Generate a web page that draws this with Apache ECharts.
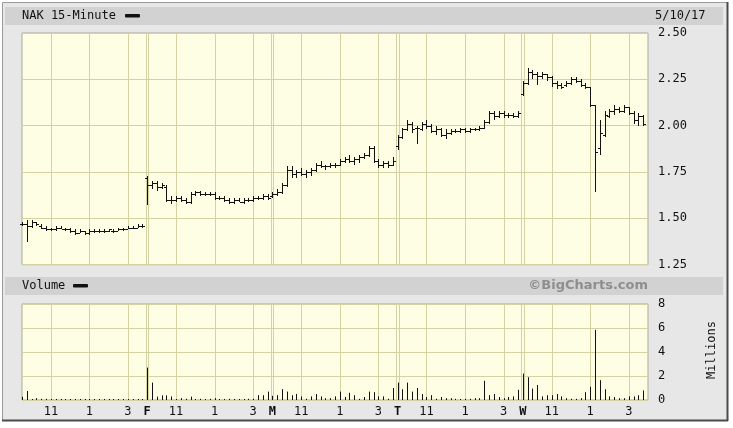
<!DOCTYPE html>
<html><head><meta charset="utf-8">
<script src="https://cdn.jsdelivr.net/npm/echarts@6/dist/echarts.min.js"></script>
<style>html,body{margin:0;padding:0;background:#fff}#c{width:733px;height:428px}</style>
</head><body><div id="c"></div>
<script>
// 15-minute bars, 5 sessions x 26 bars (Thu, Fri, Mon, Tue, Wed)
const opens = [
1.47,1.47,1.46,1.48,1.46,1.45,1.44,1.44,1.45,1.44,1.44,1.43,1.42,1.43,1.42,1.43,1.43,1.43,1.43,1.43,1.43,1.44,1.44,1.45,1.45,1.46,
1.72,1.68,1.69,1.67,1.67,1.60,1.60,1.61,1.60,1.59,1.63,1.64,1.63,1.63,1.63,1.61,1.61,1.60,1.59,1.60,1.59,1.60,1.60,1.61,1.61,1.62,
1.62,1.63,1.64,1.68,1.76,1.74,1.75,1.74,1.75,1.76,1.79,1.78,1.78,1.79,1.79,1.81,1.82,1.81,1.82,1.83,1.84,1.88,1.81,1.79,1.80,1.79,
1.89,1.94,1.98,2.01,1.99,1.98,2.01,2.00,1.97,1.98,1.95,1.96,1.97,1.97,1.98,1.97,1.98,1.98,1.99,2.02,2.07,2.05,2.07,2.06,2.06,2.05,
2.17,2.23,2.29,2.28,2.27,2.28,2.26,2.23,2.22,2.22,2.23,2.25,2.24,2.22,2.21,2.11,1.88,1.95,2.05,2.08,2.09,2.08,2.10,2.07,2.03,2.05
];
const highs = [
1.48,1.49,1.49,1.48,1.47,1.46,1.45,1.46,1.46,1.45,1.45,1.44,1.44,1.43,1.44,1.44,1.44,1.44,1.44,1.44,1.45,1.45,1.46,1.46,1.47,1.47,
1.73,1.70,1.70,1.69,1.68,1.62,1.62,1.62,1.61,1.64,1.65,1.65,1.64,1.64,1.64,1.62,1.62,1.61,1.61,1.61,1.61,1.61,1.62,1.62,1.63,1.63,
1.64,1.66,1.69,1.78,1.78,1.76,1.77,1.76,1.77,1.80,1.81,1.79,1.80,1.80,1.82,1.83,1.84,1.83,1.84,1.85,1.89,1.89,1.82,1.81,1.81,1.83,
1.95,1.99,2.03,2.02,2.00,2.02,2.03,2.01,2.00,1.99,1.98,1.98,1.98,1.99,1.99,1.99,1.99,2.00,2.03,2.08,2.08,2.08,2.08,2.07,2.07,2.08,
2.24,2.31,2.30,2.29,2.29,2.28,2.27,2.24,2.23,2.24,2.26,2.26,2.25,2.23,2.21,2.11,2.03,2.08,2.09,2.11,2.10,2.11,2.10,2.08,2.07,2.06
];
const lows = [
1.46,1.37,1.45,1.46,1.44,1.43,1.43,1.43,1.44,1.43,1.42,1.41,1.42,1.41,1.41,1.42,1.42,1.42,1.43,1.42,1.43,1.43,1.44,1.44,1.45,1.45,
1.57,1.66,1.65,1.66,1.59,1.58,1.59,1.59,1.58,1.58,1.62,1.62,1.62,1.62,1.60,1.60,1.59,1.58,1.58,1.59,1.58,1.59,1.59,1.60,1.60,1.60,
1.61,1.62,1.63,1.67,1.72,1.72,1.73,1.72,1.73,1.75,1.77,1.76,1.77,1.77,1.78,1.80,1.80,1.79,1.80,1.82,1.83,1.80,1.77,1.77,1.77,1.78,
1.87,1.93,1.97,1.96,1.90,1.97,1.98,1.96,1.95,1.94,1.93,1.95,1.96,1.96,1.96,1.96,1.97,1.97,1.98,2.01,2.03,2.04,2.04,2.04,2.04,2.04,
2.16,2.22,2.25,2.22,2.25,2.24,2.21,2.20,2.20,2.21,2.22,2.23,2.21,2.20,2.10,1.64,1.84,1.94,2.04,2.06,2.07,2.07,2.06,2.01,2.00,2.00
];
const closes = [
1.47,1.46,1.48,1.47,1.45,1.44,1.44,1.45,1.44,1.44,1.43,1.42,1.43,1.42,1.43,1.43,1.43,1.43,1.44,1.43,1.44,1.44,1.45,1.45,1.46,1.46,
1.68,1.69,1.67,1.68,1.60,1.60,1.61,1.60,1.59,1.63,1.64,1.63,1.63,1.63,1.61,1.61,1.60,1.59,1.60,1.59,1.60,1.60,1.61,1.61,1.62,1.61,
1.63,1.64,1.68,1.76,1.74,1.75,1.74,1.75,1.76,1.79,1.78,1.78,1.79,1.79,1.81,1.82,1.81,1.82,1.83,1.84,1.88,1.81,1.79,1.80,1.79,1.81,
1.94,1.98,2.01,1.98,1.99,2.01,2.00,1.97,1.98,1.95,1.96,1.97,1.97,1.98,1.97,1.98,1.98,1.99,2.02,2.07,2.05,2.07,2.06,2.06,2.05,2.07,
2.23,2.29,2.28,2.27,2.28,2.26,2.23,2.22,2.21,2.23,2.25,2.24,2.22,2.21,2.11,1.86,1.96,2.06,2.08,2.09,2.08,2.10,2.07,2.03,2.05,2.01
];
// volume in millions
const volumes = [
0.27,0.75,0.05,0.15,0.10,0.10,0.08,0.03,0.03,0.03,0.08,0.08,0.03,0.03,0.08,0.03,0.03,0.03,0.03,0.03,0.03,0.03,0.08,0.03,0.03,0.05,
2.70,1.45,0.28,0.39,0.39,0.30,0.08,0.15,0.10,0.28,0.08,0.10,0.05,0.10,0.15,0.08,0.05,0.10,0.05,0.05,0.05,0.10,0.10,0.40,0.40,0.70,
0.35,0.40,0.90,0.70,0.40,0.50,0.30,0.10,0.30,0.50,0.30,0.15,0.15,0.30,0.70,0.25,0.60,0.40,0.10,0.25,0.70,0.65,0.30,0.30,0.10,1.00,
1.45,0.90,1.45,0.70,1.00,0.50,0.25,0.40,0.10,0.25,0.15,0.15,0.10,0.05,0.10,0.10,0.15,0.15,1.60,0.40,0.50,0.25,0.15,0.25,0.30,0.85,
2.20,1.90,0.95,1.25,0.30,0.40,0.40,0.50,0.30,0.15,0.10,0.10,0.15,0.65,1.10,5.85,1.65,0.90,0.30,0.25,0.15,0.15,0.30,0.30,0.40,0.80
];
// x tick positions (bar index) and their labels
const xTickPos  = [6,14,22,26,32,40,48,52,58,66,74,78,84,92,100,104,110,118,126];
const xTickText = ['11','1','3','F','11','1','3','M','11','1','3','T','11','1','3','W','11','1','3'];
const dayBreaks = [26,52,78,104];
const priceTicks = {min:1.25, max:2.5, step:0.25};
const volTicks = {min:0, max:8, step:2};

const GRIDC = '#d4d1a2';
const MONO = '"DejaVu Sans Mono", monospace';
const N = opens.length;

const priceData = opens.map((o,i)=>[i,o,highs[i],lows[i],closes[i]]);
const volData = volumes.map((v,i)=>[i,v]);
const vLines = [];
xTickPos.forEach(p=>{ if(!dayBreaks.includes(p)) vLines.push([p,0]); });
dayBreaks.forEach(d=>{ vLines.push([d-0.32,1]); vLines.push([d+0.22,1]); });

function crisp(v){ return Math.round(v)+0.5; }

function gridLineRender(yMin,yMax){
  return function(params, api){
    const x = api.value(0);
    const a = api.coord([x,yMin]), b = api.coord([x,yMax]);
    const cx = crisp(a[0]);
    return {type:'line', shape:{x1:cx,y1:a[1],x2:cx,y2:b[1]}, style:{stroke:GRIDC,lineWidth:1}};
  };
}

function ohlcRender(params, api){
  const x = api.value(0);
  const pO = api.coord([x,api.value(1)]), pH = api.coord([x,api.value(2)]);
  const pL = api.coord([x,api.value(3)]), pC = api.coord([x,api.value(4)]);
  const cx = crisp(pH[0]);
  let y1 = Math.round(pH[1]), y2 = Math.round(pL[1]);
  if (y2 - y1 < 3) y2 = y1 + 3;
  const st = {stroke:'#111', lineWidth:1};
  return {type:'group', children:[
    {type:'line', shape:{x1:cx,y1:y1,x2:cx,y2:y2}, style:st},
    {type:'line', shape:{x1:cx-2.5,y1:crisp(pO[1]),x2:cx-0.5,y2:crisp(pO[1])}, style:st},
    {type:'line', shape:{x1:cx+0.5,y1:crisp(pC[1]),x2:cx+2.5,y2:crisp(pC[1])}, style:st}
  ]};
}

function volRender(params, api){
  const x = api.value(0);
  const a = api.coord([x,0]), b = api.coord([x,api.value(1)]);
  const cx = crisp(a[0]);
  return {type:'line', shape:{x1:cx,y1:a[1],x2:cx,y2:Math.min(b[1],a[1]-1)}, style:{stroke:'#111',lineWidth:1}};
}

const chart = echarts.init(document.getElementById('c'), null, {renderer:'canvas'});
chart.setOption({
  backgroundColor:'#ffffff',
  animation:false,
  graphic:[
    {type:'rect', z:-10, shape:{x:2.5,y:2.5,width:725,height:418}, style:{fill:'#e7e7e7',stroke:'#9a9a9a',lineWidth:1}},
    {type:'line', z:-9, shape:{x1:727.5,y1:2,x2:727.5,y2:421}, style:{stroke:'#4a4a4a',lineWidth:2}},
    {type:'line', z:-9, shape:{x1:2,y1:420.5,x2:728,y2:420.5}, style:{stroke:'#4a4a4a',lineWidth:2}},
    {type:'rect', z:-8, shape:{x:5,y:7,width:718,height:18}, style:{fill:'#d2d2d2'}},
    {type:'rect', z:-8, shape:{x:5,y:277,width:718,height:18}, style:{fill:'#d2d2d2'}},
    {type:'text', z:50, x:22, y:16, style:{text:'NAK 15-Minute', font:'12px '+MONO, fill:'#111', verticalAlign:'middle'}},
    {type:'rect', z:50, shape:{x:125,y:14,width:15,height:3.5,r:1}, style:{fill:'#111'}},
    {type:'text', z:50, x:655, y:16, style:{text:'5/10/17', font:'12px '+MONO, fill:'#111', verticalAlign:'middle'}},
    {type:'text', z:50, x:22, y:286, style:{text:'Volume', font:'12px '+MONO, fill:'#111', verticalAlign:'middle'}},
    {type:'rect', z:50, shape:{x:73,y:284,width:15,height:3.5,r:1}, style:{fill:'#111'}},
    {type:'text', z:50, x:648, y:286, style:{text:'©BigCharts.com', font:'bold 13px "DejaVu Sans", sans-serif', fill:'#8e8e8e', align:'right', verticalAlign:'middle'}},
    {type:'text', z:50, x:712, y:350, rotation:Math.PI/2, style:{text:'Millions', font:'12px '+MONO, fill:'#111', align:'center', verticalAlign:'middle'}}
  ],
  grid:[
    {left:22, width:626, top:33, height:231.7, show:true, backgroundColor:'#fefee4', borderColor:'#a9a99a', borderWidth:1},
    {left:22, width:626, top:304, height:96, show:true, backgroundColor:'#fefee4', borderColor:'#a9a99a', borderWidth:1}
  ],
  xAxis:[
    {gridIndex:0, type:'value', min:0, max:N, show:false, splitLine:{show:false}},
    {gridIndex:1, type:'value', min:0, max:N, interval:1,
      axisLine:{show:false}, axisTick:{show:false}, splitLine:{show:false},
      axisLabel:{margin:6, fontFamily:MONO, fontSize:12, color:'#111',
        showMinLabel:true, showMaxLabel:true,
        formatter:function(v){ const k = xTickPos.indexOf(v); if(k<0) return ''; const t = xTickText[k]; return /[A-Z]/.test(t) ? '{b|'+t+'}' : t; },
        rich:{b:{fontWeight:'bold', fontFamily:MONO, fontSize:12, color:'#111'}}}}
  ],
  yAxis:[
    {gridIndex:0, type:'value', position:'right', min:priceTicks.min, max:priceTicks.max, interval:priceTicks.step,
      axisLine:{show:false}, axisTick:{show:false},
      axisLabel:{margin:10, fontFamily:MONO, fontSize:12, color:'#111', formatter:v=>v.toFixed(2)},
      splitLine:{lineStyle:{color:GRIDC, width:1}}},
    {gridIndex:1, type:'value', position:'right', min:volTicks.min, max:volTicks.max, interval:volTicks.step,
      axisLine:{show:false}, axisTick:{show:false},
      axisLabel:{margin:10, fontFamily:MONO, fontSize:12, color:'#111'},
      splitLine:{lineStyle:{color:GRIDC, width:1}}}
  ],
  series:[
    {type:'custom', xAxisIndex:0, yAxisIndex:0, z:1, silent:true, data:vLines, renderItem:gridLineRender(priceTicks.min, priceTicks.max), encode:{x:0}},
    {type:'custom', xAxisIndex:1, yAxisIndex:1, z:1, silent:true, data:vLines, renderItem:gridLineRender(volTicks.min, volTicks.max), encode:{x:0}},
    {type:'custom', xAxisIndex:0, yAxisIndex:0, z:3, data:priceData, renderItem:ohlcRender, encode:{x:0, y:[1,2,3,4]}},
    {type:'custom', xAxisIndex:1, yAxisIndex:1, z:3, data:volData, renderItem:volRender, encode:{x:0, y:1}}
  ]
});
</script></body></html>
